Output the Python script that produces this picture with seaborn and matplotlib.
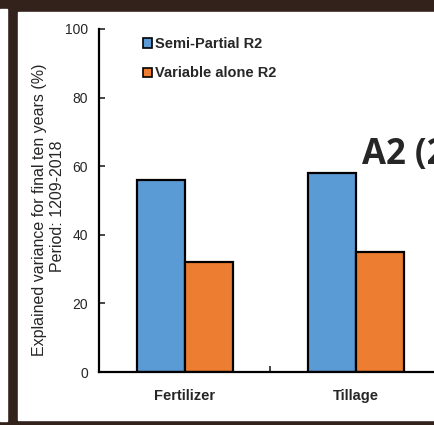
import numpy as np
import pandas as pd
import matplotlib
matplotlib.use("Agg")
import matplotlib.pyplot as plt
from matplotlib.patches import Rectangle, Patch
import seaborn as sns

factors = ["Fertilizer", "Tillage"]
semi_partial = [56, 58]
variable_alone = [32, 35]
series_names = ["Semi-Partial R2", "Variable alone R2"]
colors = ["#5B9BD5", "#ED7D31"]

df = pd.DataFrame({
    "factor": factors * 2,
    "value": semi_partial + variable_alone,
    "series": [series_names[0]] * 2 + [series_names[1]] * 2,
})

sns.set_style("white")
plt.rcParams["font.family"] = ["Liberation Sans", "DejaVu Sans"]

W, H = 434, 425
fig = plt.figure(figsize=(W / 100, H / 100), dpi=100, facecolor="#33221c")

def px_rect(x0, y0, x1, y1, color):
    # rectangle given in pixel coords, origin at top-left
    fig.patches.append(Rectangle((x0 / W, 1 - y1 / H), (x1 - x0) / W, (y1 - y0) / H,
                                 transform=fig.transFigure, color=color, zorder=-10))

px_rect(18, 12, W, 420, "white")
px_rect(0, 9, 7, 421, "white")

ax = fig.add_axes([99 / W, 53 / H, (W - 99) / W, 343 / H])
ax.set_zorder(5)
ax.patch.set_alpha(0)

sns.barplot(data=df, x="factor", y="value", hue="series", palette=colors,
            width=0.56, edgecolor="black", linewidth=1.6, ax=ax, legend=False,
            saturation=1)

ax.set_ylim(0, 100)
ax.set_xlim(-0.5, 1.456)
ax.set_yticks([0, 20, 40, 60, 80, 100])
ax.set_xlabel("")
ax.set_ylabel("")
for s in ["top", "right"]:
    ax.spines[s].set_visible(False)
for s in ["left", "bottom"]:
    ax.spines[s].set_linewidth(1.6)
    ax.spines[s].set_color("black")

ax.tick_params(axis="y", direction="in", length=4, width=1.2, pad=8, labelsize=10,
               left=True)
ax.tick_params(axis="x", which="major", length=0, pad=12, labelsize=10.5)
for lab in ax.get_xticklabels():
    lab.set_fontweight("bold")
ax.set_xticks([0.5], minor=True)
ax.tick_params(axis="x", which="minor", direction="in", length=4, width=1.2, bottom=True)

handles = [Patch(facecolor=c, edgecolor="black", linewidth=1.2) for c in colors]
leg = ax.legend(handles, series_names, loc="upper left",
                bbox_to_anchor=(130 / W, 1 - 24 / H), bbox_transform=fig.transFigure,
                frameon=False, handlelength=0.6, handleheight=0.6,
                handletextpad=0.2, labelspacing=1.05, prop={"weight": "bold", "size": 10.5})

fig.text(40 / W, 1 - 210 / H, "Explained variance for final ten years (%)",
         rotation=90, ha="center", va="center", fontsize=11.5)
fig.text(58 / W, 1 - 206 / H, "Period: 1209-2018",
         rotation=90, ha="center", va="center", fontsize=11.5)

fig.text(362 / W, 1 - 164 / H, "A2 (2", fontsize=25, fontweight="bold",
         family="Open Sans", ha="left", va="baseline")

fig.savefig("out.png", dpi=100, facecolor=fig.get_facecolor())
